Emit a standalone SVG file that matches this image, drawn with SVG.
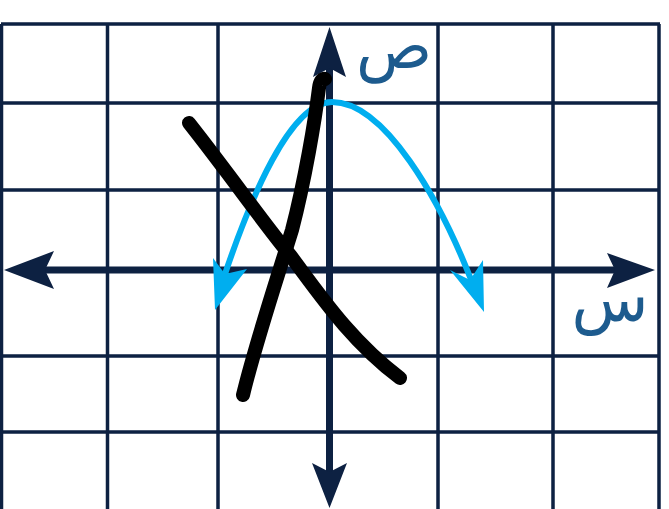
<svg xmlns="http://www.w3.org/2000/svg" width="669" height="509" viewBox="0 0 669 509">
<style>
.grid{stroke:#0d2142;stroke-width:3.5;fill:none}
.axis{stroke:#0d2142;stroke-width:7;fill:none}
.head{fill:#0d2142}
.curve{stroke:#00aeef;stroke-width:6;fill:none}
.chead{fill:#00aeef}
.ink{stroke:#000;stroke-width:14;fill:none;stroke-linecap:round;stroke-linejoin:round}
.lbl{font-family:"DejaVu Sans",sans-serif;fill:#1d5b8e;font-size:63px}
</style>
<rect width="669" height="509" fill="#fff"/>
<g id="grid">
<path class="grid" d="M1,24 H660 M3,103 H658 M3,190 H658 M3,356 H658 M3,432 H658"/>
<path class="grid" d="M1.5,24 V509 M107.5,24 V509 M218,24 V509 M438,24 V509 M553,24 V509 M659,24 V509"/>
</g>
<g id="axes">
<path class="axis" d="M30,270 H630"/>
<polygon class="head" points="4,270 54,251 45,270 54,289"/>
<polygon class="head" points="655,270 607,253 615,270 607,288"/>
<path class="axis" d="M329.5,60 V480"/>
<polygon class="head" points="329.5,27 346,77 329.5,68 313,77"/>
<polygon class="head" points="329.5,508 347,463 329.5,472 312,463"/>
</g>
<g id="parabola">
<path class="curve" d="M225,274 C250,200 290,102 332,102 C385,102 440,200 472,282"/>
<polygon class="chead" points="215,310 213,258 225,274 247,269"/>
<polygon class="chead" points="484,312 483,260 470,280 450,270"/>
</g>
<g id="ink">
<path class="ink" d="M189,123 C230,175 265,225 290,255 C320,295 350,340 400,378"/>
<path class="ink" d="M243,395 C255,345 275,285 292,230 C305,180 315,120 319,88 C320,80 323,78 325,79"/>
</g>
<g id="labels">
<text class="lbl" x="394" y="68" text-anchor="middle">ص</text>
<text class="lbl" x="610" y="321" text-anchor="middle">س</text>
</g>
</svg>
